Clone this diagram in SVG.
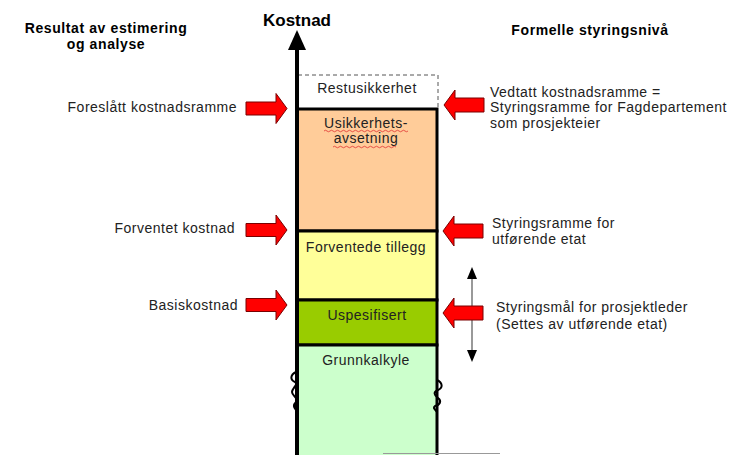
<svg xmlns="http://www.w3.org/2000/svg" width="749" height="455" viewBox="0 0 749 455">
<style>
text{font-family:"Liberation Sans",Arial,sans-serif;}
.hd{font-weight:bold;font-size:14px;letter-spacing:0.6px;fill:#000;text-anchor:middle;}
.lt{font-size:14px;letter-spacing:0.5px;fill:#222;}
.bx{font-size:14px;letter-spacing:0.5px;fill:#222;text-anchor:middle;}
.edge{stroke:#000;stroke-width:3;}
.red{fill:#FF0000;stroke:#7a0000;stroke-width:1;}
.wave{fill:none;stroke:#e03030;stroke-width:0.8;}
</style>
<defs>
<path id="ra" d="M-41,-6.5 L-11,-6.5 L-11,-15 L0,0 L-11,15 L-11,6.5 L-41,6.5 Z"/>
<path id="la" d="M40,-7 L11,-7 L11,-15 L0,0 L11,15 L11,7 L40,7 Z"/>
</defs>
<rect width="749" height="455" fill="#fff"/>

<g id="headings">
<text class="hd" x="106" y="33">Resultat av estimering</text>
<text class="hd" x="106" y="49">og analyse</text>
<text class="hd" x="590" y="35">Formelle styringsnivå</text>
<text x="297" y="26" text-anchor="middle" font-weight="bold" font-size="17" fill="#000">Kostnad</text>
</g>

<g id="restusikkerhet">
<rect x="298" y="75" width="140" height="34" fill="#fff" stroke="#555" stroke-width="1" stroke-dasharray="4,3"/>
<text class="bx" x="367" y="93">Restusikkerhet</text>
</g>
<g id="usikkerhetsavsetning">
<rect x="297" y="109" width="140" height="122" style="fill:#FFCC99" class="edge"/>
<text class="bx" x="366" y="128">Usikkerhets-</text>
<text class="bx" x="366" y="143">avsetning</text>
<path class="wave" d="M324,131 q1.5,-1.5 3,0 t3,0 t3,0 t3,0 t3,0 t3,0 t3,0 t3,0 t3,0 t3,0 t3,0 t3,0 t3,0 t3,0 t3,0 t3,0 t3,0 t3,0 t3,0 t3,0 t3,0 t3,0 t3,0 t3,0 t3,0 t3,0 t3,0 t3,0"/>
<path class="wave" d="M333,147 q1.5,-1.5 3,0 t3,0 t3,0 t3,0 t3,0 t3,0 t3,0 t3,0 t3,0 t3,0 t3,0 t3,0 t3,0 t3,0 t3,0 t3,0 t3,0 t3,0 t3,0 t3,0 t3,0"/>
</g>
<g id="forventede-tillegg">
<rect x="297" y="231" width="140" height="69" style="fill:#FFFF99" class="edge"/>
<text class="bx" x="366" y="252">Forventede tillegg</text>
</g>
<g id="uspesifisert">
<rect x="297" y="300" width="140" height="45" style="fill:#99CC00" class="edge"/>
<text class="bx" x="367" y="320">Uspesifisert</text>
</g>
<g id="grunnkalkyle">
<path d="M297,345 L437,345 L437,457 L297,457 Z" style="fill:#CCFFCC" class="edge"/>
<text class="bx" x="366" y="365">Grunnkalkyle</text>
<path d="M296,372 C290,375 290,380 295,382 C299,384 292,388 292,392 C292,396 299,398 296,402 C293,405 294,408 296,410" fill="none" stroke="#000" stroke-width="2"/>
<path d="M437,380 C443,383 443,388 438,390 C433,392 434,395 438,398 C442,401 440,405 435,406 C432,408 436,410 437,412" fill="none" stroke="#000" stroke-width="2"/>
</g>

<g id="connectors">
<line x1="297" y1="457" x2="297" y2="48" stroke="#000" stroke-width="4"/>
<path d="M288,50 L297,30 L306,50 Z" fill="#000"/>
<line x1="472" y1="276" x2="472" y2="352" stroke="#777" stroke-width="1.5"/>
<path d="M467,279 L472,267 L477,279 Z" fill="#000"/>
<path d="M467,350 L472,362 L477,350 Z" fill="#000"/>
<use href="#ra" class="red" x="287" y="108.5"/>
<use href="#ra" class="red" x="287" y="230"/>
<use href="#ra" class="red" x="287" y="305"/>
<use href="#la" class="red" x="444" y="105"/>
<use href="#la" class="red" x="443" y="231"/>
<use href="#la" class="red" x="443" y="313"/>
<line x1="383" y1="453.5" x2="500" y2="453.5" stroke="#999" stroke-width="1"/>
</g>

<g id="left-labels">
<text class="lt" x="237" y="112" text-anchor="end">Foreslått kostnadsramme</text>
<text class="lt" x="235" y="233" text-anchor="end">Forventet kostnad</text>
<text class="lt" x="238" y="310" text-anchor="end">Basiskostnad</text>
</g>
<g id="right-labels">
<text class="lt" x="490" y="97">Vedtatt kostnadsramme =</text>
<text class="lt" x="490" y="112">Styringsramme for Fagdepartement</text>
<text class="lt" x="490" y="128">som prosjekteier</text>
<text class="lt" x="492" y="228">Styringsramme for</text>
<text class="lt" x="492" y="244">utførende etat</text>
<text class="lt" x="496" y="312">Styringsmål for prosjektleder</text>
<text class="lt" x="496" y="329">(Settes av utførende etat)</text>
</g>
</svg>
